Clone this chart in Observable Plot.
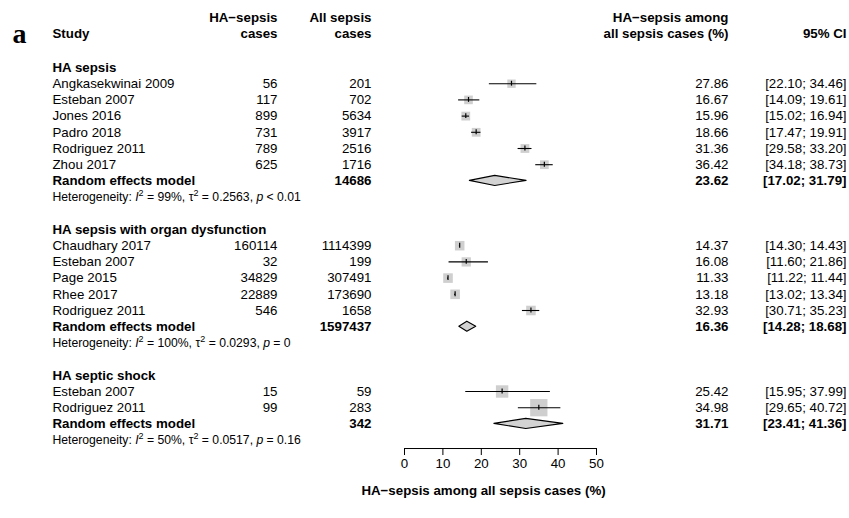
<!DOCTYPE html>
<html>
<head>
<meta charset="utf-8">
<script src="https://cdn.jsdelivr.net/npm/d3@7"></script>
<script src="https://cdn.jsdelivr.net/npm/@observablehq/plot@0.6"></script>
<style>
  html, body { margin: 0; padding: 0; background: #fff; }
  #chart svg { display: block; }
</style>
</head>
<body>
<div id="chart"></div>
<script>
// ---------- data ----------
const groupNames = ["HA sepsis", "HA sepsis with organ dysfunction", "HA septic shock"];
const studyGroup = [0, 0, 0, 0, 0, 0, 1, 1, 1, 1, 1, 2, 2];
const studyNames = ["Angkasekwinai 2009", "Esteban 2007", "Jones 2016", "Padro 2018", "Rodriguez 2011", "Zhou 2017",
  "Chaudhary 2017", "Esteban 2007", "Page 2015", "Rhee 2017", "Rodriguez 2011",
  "Esteban 2007", "Rodriguez 2011"];
const haCases = [56, 117, 899, 731, 789, 625, 160114, 32, 34829, 22889, 546, 15, 99];
const allCases = [201, 702, 5634, 3917, 2516, 1716, 1114399, 199, 307491, 173690, 1658, 59, 283];
const estimate = [27.86, 16.67, 15.96, 18.66, 31.36, 36.42, 14.37, 16.08, 11.33, 13.18, 32.93, 25.42, 34.98];
const lower = [22.10, 14.09, 15.02, 17.47, 29.58, 34.18, 14.30, 11.60, 11.22, 13.02, 30.71, 15.95, 29.65];
const upper = [34.46, 19.61, 16.94, 19.91, 33.20, 38.73, 14.43, 21.86, 11.44, 13.34, 35.23, 37.99, 40.72];
const weight = [15.4, 16.5, 17.1, 17.0, 17.0, 16.9, 20.1, 19.0, 20.3, 20.3, 20.2, 34, 66];
const pooledTotal = [14686, 1597437, 342];
const pooledEst = [23.62, 16.36, 31.71];
const pooledLower = [17.02, 14.28, 23.41];
const pooledUpper = [31.79, 18.68, 41.36];
const hetI2 = ["99%", "100%", "50%"];
const hetTau2 = ["0.2563", "0.0293", "0.0517"];
const hetP = ["< 0.01", "= 0", "= 0.16"];
const xTicks = [0, 10, 20, 30, 40, 50];
const xLabel = "HA\u2212sepsis among all sepsis cases (%)";

// ---------- layout constants ----------
const ROW0 = 67, ROWH = 16.2;
const COL_STUDY = 52, COL_HA = 277, COL_ALL = 371, COL_PCT = 728, COL_CI = 846;
const FS = 13.3, FS_HET = 12.2;

// ---------- build rows ----------
const headerRows = [], studyRows = [], pooledRows = [], hetRows = [];
let r = 0;
groupNames.forEach((g, gi) => {
  headerRows.push({row: r++, label: g});
  studyNames.forEach((s, i) => {
    if (studyGroup[i] !== gi) return;
    studyRows.push({row: r++, name: s, ha: haCases[i], all: allCases[i],
      est: estimate[i], lower: lower[i], upper: upper[i], weight: weight[i]});
  });
  pooledRows.push({row: r++, g: gi, total: pooledTotal[gi], est: pooledEst[gi], lower: pooledLower[gi], upper: pooledUpper[gi]});
  hetRows.push({row: r++, g: gi});
  r++;
});
const lastRow = r - 2;
const axisRow = lastRow + 0.52;
const fmt = v => v.toFixed(2);
const ciText = d => `[${fmt(d.lower)}; ${fmt(d.upper)}]`;

const DH = 0.31; // diamond half height in rows
const diamondPts = pooledRows.flatMap(d => [
  {g: d.g, x: d.lower, y1: d.row, y2: d.row},
  {g: d.g, x: d.est, y1: d.row - DH, y2: d.row + DH},
  {g: d.g, x: d.upper, y1: d.row, y2: d.row}
]);

const headerLines = [
  {row: -3.1, col: COL_HA, text: "HA\u2212sepsis"},
  {row: -2.1, col: COL_HA, text: "cases"},
  {row: -3.1, col: COL_ALL, text: "All sepsis"},
  {row: -2.1, col: COL_ALL, text: "cases"},
  {row: -3.1, col: COL_PCT, text: "HA\u2212sepsis among"},
  {row: -2.1, col: COL_PCT, text: "all sepsis cases (%)"},
  {row: -2.1, col: COL_CI, text: "95% CI"}
];

const txt = (data, opts) => Plot.text(data, {frameAnchor: "left", fontSize: FS, fill: "black", ...opts});

const chart = Plot.plot({
  width: 849,
  height: 518,
  marginTop: 0, marginLeft: 0, marginRight: 0,
  marginBottom: 518 - (ROW0 + axisRow * ROWH),
  x: {domain: [xTicks[0], xTicks[xTicks.length - 1]], range: [404, 596]},
  y: {domain: [0, lastRow], range: [ROW0, ROW0 + lastRow * ROWH], axis: null},
  r: {type: "sqrt", domain: [0, 100], range: [0, 12]},
  style: {fontFamily: "'Liberation Sans', Arial, sans-serif", fontSize: FS + "px", background: "#fff", color: "black"},
  marks: [
    // panel letter
    Plot.text(["a"], {frameAnchor: "left", y: [-2.05], dx: 12, textAnchor: "start", fontSize: 28, fontWeight: "bold", fontFamily: "'Liberation Serif', 'Times New Roman', serif"}),
    // column headers
    txt([{row: -2.1}], {y: "row", text: () => "Study", dx: COL_STUDY, textAnchor: "start", fontWeight: "bold"}),
    ...[COL_HA, COL_ALL, COL_PCT, COL_CI].map(c =>
      txt(headerLines.filter(h => h.col === c), {y: "row", text: "text", dx: c, textAnchor: "end", fontWeight: "bold"})),
    // group headers
    txt(headerRows, {y: "row", text: "label", dx: COL_STUDY, textAnchor: "start", fontWeight: "bold"}),
    // studies
    txt(studyRows, {y: "row", text: "name", dx: COL_STUDY, textAnchor: "start"}),
    txt(studyRows, {y: "row", text: d => String(d.ha), dx: COL_HA, textAnchor: "end"}),
    txt(studyRows, {y: "row", text: d => String(d.all), dx: COL_ALL, textAnchor: "end"}),
    txt(studyRows, {y: "row", text: d => fmt(d.est), dx: COL_PCT, textAnchor: "end"}),
    txt(studyRows, {y: "row", text: ciText, dx: COL_CI, textAnchor: "end"}),
    // pooled
    txt(pooledRows, {y: "row", text: () => "Random effects model", dx: COL_STUDY, textAnchor: "start", fontWeight: "bold"}),
    txt(pooledRows, {y: "row", text: d => String(d.total), dx: COL_ALL, textAnchor: "end", fontWeight: "bold"}),
    txt(pooledRows, {y: "row", text: d => fmt(d.est), dx: COL_PCT, textAnchor: "end", fontWeight: "bold"}),
    txt(pooledRows, {y: "row", text: ciText, dx: COL_CI, textAnchor: "end", fontWeight: "bold"}),
    // heterogeneity (rich text built afterwards)
    txt(hetRows, {y: "row", text: () => "Heterogeneity", dx: COL_STUDY, textAnchor: "start", fontSize: FS_HET}),
    // forest marks
    Plot.dot(studyRows, {x: "est", y: "row", r: "weight", symbol: "square", fill: "#cfcfcf", stroke: null}),
    Plot.ruleY(studyRows, {y: "row", x1: "lower", x2: "upper", stroke: "black", strokeWidth: 1.1}),
    Plot.ruleX(studyRows, {x: "est", y1: d => d.row - 0.15, y2: d => d.row + 0.15, stroke: "black", strokeWidth: 1.2}),
    Plot.areaY(diamondPts, {x: "x", y1: "y1", y2: "y2", z: "g", fill: "#d3d3d3", stroke: "black", strokeWidth: 1.1}),
    // x axis
    Plot.ruleY([axisRow], {x1: xTicks[0], x2: xTicks[xTicks.length - 1], stroke: "black", strokeWidth: 1}),
    Plot.axisX({ticks: xTicks, tickSize: 7, tickPadding: 3, label: null, anchor: "bottom", fontSize: FS, stroke: "black", strokeWidth: 1}),
    Plot.text([xLabel], {frameAnchor: "left", y: [axisRow + 2.58], dx: 483, textAnchor: "middle", fontWeight: "bold", fontSize: FS})
  ]
});

document.getElementById("chart").appendChild(chart);

// rich heterogeneity text with italics and superscripts
const hetTexts = d3.select(chart).selectAll("text").filter(function() { return this.textContent === "Heterogeneity"; });
hetTexts.each(function(_, i) {
  const t = d3.select(this);
  t.text(null);
  const sup = 4.6;
  const parts = [
    {s: "Heterogeneity: "},
    {s: "I", it: true},
    {s: "2", sup: true},
    {s: " = " + hetI2[i] + ", ", down: true},
    {s: "\u03C4"},
    {s: "2", sup: true},
    {s: " = " + hetTau2[i] + ", ", down: true},
    {s: "p", it: true},
    {s: " " + hetP[i]}
  ];
  parts.forEach(p => {
    const ts = t.append("tspan").text(p.s);
    if (p.it) ts.attr("font-style", "italic");
    if (p.sup) ts.attr("font-size", "9px").attr("dy", -sup);
    if (p.down) ts.attr("dy", sup);
  });
});
</script>
</body>
</html>
